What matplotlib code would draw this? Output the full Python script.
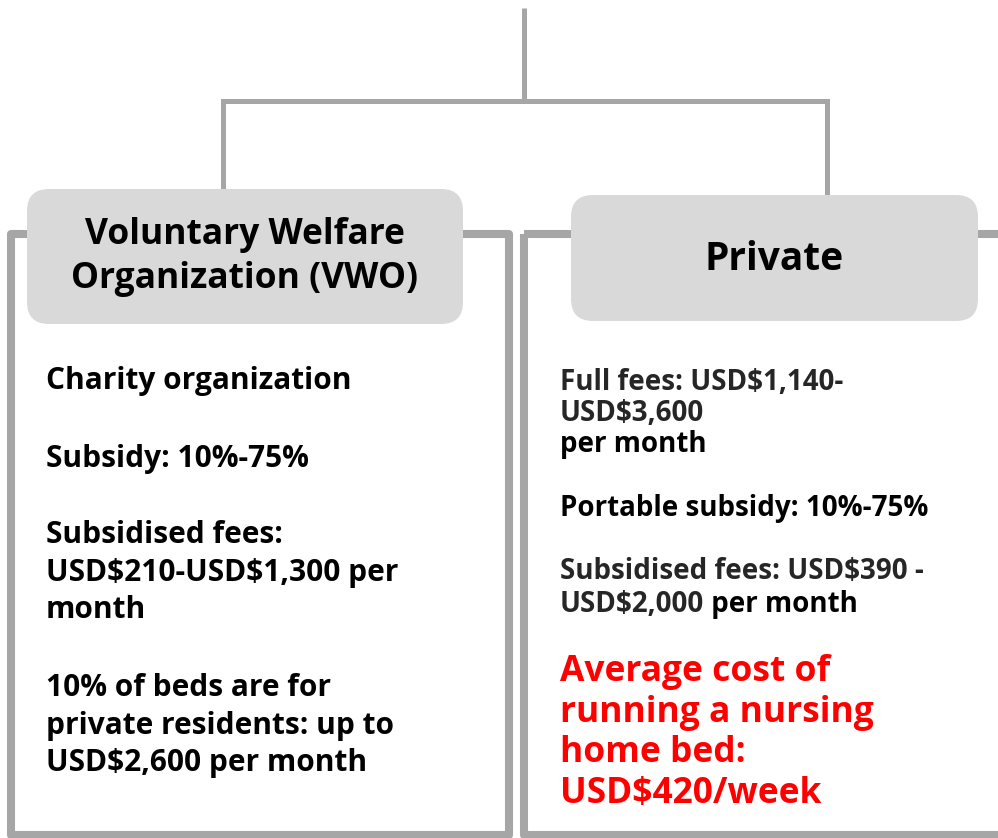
import matplotlib.pyplot as plt
from matplotlib.patches import FancyBboxPatch, Rectangle

# Text content
header_left = ["Voluntary Welfare", "Organization (VWO)"]
header_right = ["Private"]

left_paragraphs = [
    ["Charity organization"],
    ["Subsidy: 10%-75%"],
    ["Subsidised fees:", "USD$210-USD$1,300 per", "month"],
    ["10% of beds are for", "private residents: up to", "USD$2,600 per month"],
]

right_full_fees = ["Full fees: USD$1,140-", "USD$3,600"]
right_full_tail = "per month"
right_portable = "Portable subsidy: 10%-75%"
right_subsidised = ["Subsidised fees: USD$390 -", "USD$2,000"]
right_subsidised_tail = " per month"
right_red = ["Average cost of", "running a nursing", "home bed:", "USD$420/week"]

W, H = 998, 838
LINE = '#a6a6a6'
BOX = '#d9d9d9'
DARK = '#262626'
FONT = 'Open Sans'

fig = plt.figure(figsize=(W / 100, H / 100), dpi=100)
ax = fig.add_axes([0, 0, 1, 1])
ax.set_xlim(0, W)
ax.set_ylim(H, 0)
ax.axis('off')


def put(x, y, s, size, color='black', **kw):
    return ax.text(x, y, s, ha='left', va='baseline', fontsize=size, fontweight='bold',
                   family=FONT, color=color, parse_math=False, zorder=4, **kw)


def put_lines(x, y, lines, size, step, color='black'):
    for i, s in enumerate(lines):
        put(x, y + i * step, s, size, color)


# connector tree
ax.plot([524, 524], [8, 101], color=LINE, lw=3.6, solid_capstyle='butt')
ax.plot([223, 223, 827, 827], [190, 101, 101, 196], color=LINE, lw=3.6,
        solid_joinstyle='miter', solid_capstyle='butt')

# panels
ax.add_patch(Rectangle((11, 234), 498, 601, fill=False, edgecolor=LINE, lw=5.8,
                       joinstyle='round', zorder=2))
ax.add_patch(Rectangle((524, 234), 520, 601, fill=False, edgecolor=LINE, lw=5.8,
                       joinstyle='round', zorder=2))

# header boxes
ax.add_patch(FancyBboxPatch((27, 189), 436, 135, boxstyle='round,pad=0,rounding_size=22',
                            facecolor=BOX, edgecolor='none', zorder=3))
ax.add_patch(FancyBboxPatch((571, 195), 407, 126, boxstyle='round,pad=0,rounding_size=22',
                            facecolor=BOX, edgecolor='none', zorder=3))

ax.text(245, 257, "\n".join(header_left), ha='center', va='center', fontsize=25.5,
        fontweight='bold', family=FONT, linespacing=1.27, zorder=4)
ax.text(774, 259, header_right[0], ha='center', va='center', fontsize=28,
        fontweight='bold', family=FONT, zorder=4)

# left body
left_baselines = [389, 467, 543, 696]
for lines, y in zip(left_paragraphs, left_baselines):
    put_lines(46, y, lines, 21.5, 37.5)

# right body
put_lines(560, 390, right_full_fees, 20, 31, DARK)
put(560, 452, right_full_tail, 20)
put(560, 516, right_portable, 20)
put(560, 579, right_subsidised[0], 20, DARK)
t = put(560, 612, right_subsidised[1], 20, DARK)
ax.annotate(right_subsidised_tail, xy=(1, 0), xycoords=t, ha='left', va='bottom',
            fontsize=20, fontweight='bold', family=FONT, color='black', zorder=4)
put_lines(560, 681, right_red, 25.5, 40.5, '#ff0000')

fig.savefig('out.png', dpi=100)
